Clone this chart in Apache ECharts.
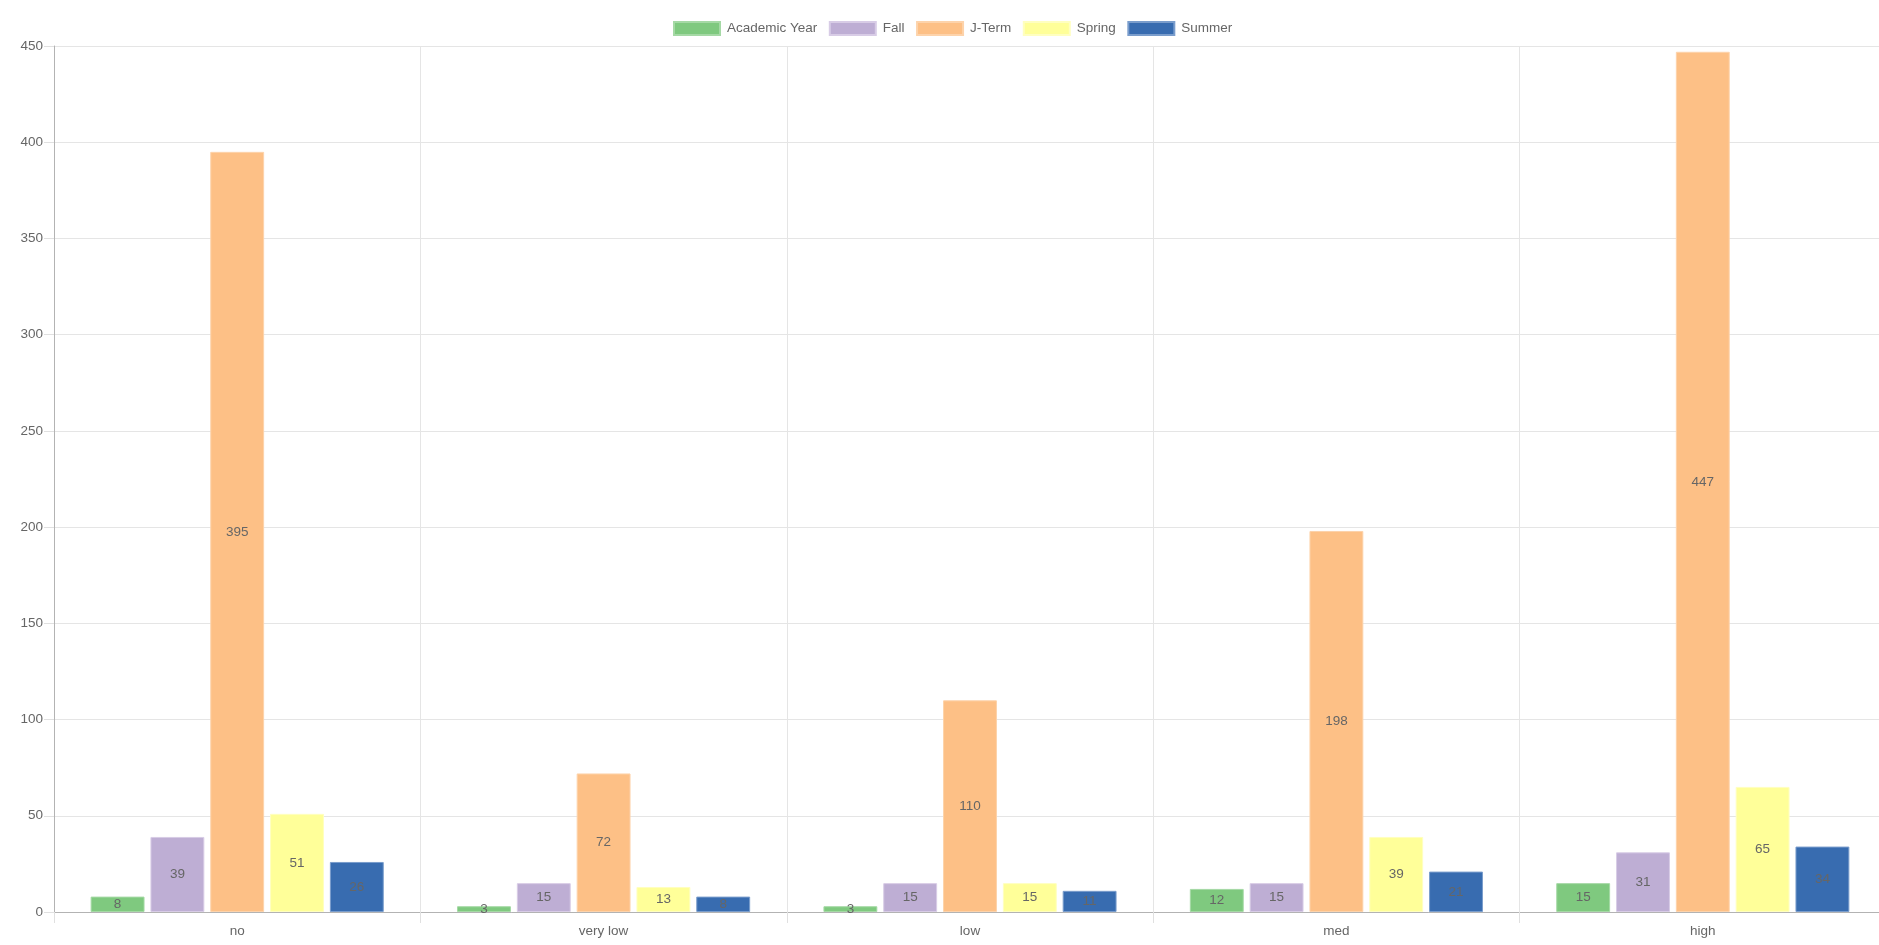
<!DOCTYPE html>
<html><head><meta charset="utf-8">
<script src="https://cdn.jsdelivr.net/npm/echarts@6/dist/echarts.min.js"></script>
<style>html,body{margin:0;padding:0;background:#fff;overflow:hidden;width:1879px;height:945px}#c{width:1900px;height:945px}</style>
</head><body><div id="c"></div>
<script>
const categories = ['no', 'very low', 'low', 'med', 'high'];
const seriesNames = ['Academic Year', 'Fall', 'J-Term', 'Spring', 'Summer'];
const academicYear = [8, 3, 3, 12, 15];
const fall = [39, 15, 15, 15, 31];
const jTerm = [395, 72, 110, 198, 447];
const spring = [51, 13, 15, 39, 65];
const summer = [26, 8, 11, 21, 34];
const colors = ['#7fc97f', '#beaed4', '#fdc086', '#ffff99', '#386cb0'];
const borders = ['#a5d9a5', '#d8cce6', '#fdd3ab', '#ffffc0', '#7a9dcc'];
const values = [academicYear, fall, jTerm, spring, summer];
const font = 'Liberation Sans, Arial, Helvetica, sans-serif';
const fs = 13.5;

const chart = echarts.init(document.getElementById('c'), null, {renderer: 'canvas'});
chart.setOption({
  animation: false,
  color: colors,
  legend: {
    top: 16, left: 668,
    itemWidth: 46, itemHeight: 13, itemGap: 11.5,
    icon: 'rect',
    textStyle: {color: '#666', fontSize: fs, fontFamily: font, padding: [0, 0, 0, 2]},
    data: seriesNames
  },
  grid: {left: 54, width: 1832, top: 46, bottom: 33, containLabel: false},
  xAxis: {
    type: 'category', data: categories,
    axisLine: {show: true, lineStyle: {color: '#b3b3b3'}},
    axisTick: {show: true, length: 11, lineStyle: {color: '#e0e0e0'}},
    axisLabel: {color: '#666', fontSize: fs, fontFamily: font, margin: 12},
    splitLine: {show: true, lineStyle: {color: '#e5e5e5'}}
  },
  yAxis: {
    type: 'value', min: 0, max: 450, interval: 50,
    axisLine: {show: true, lineStyle: {color: '#b3b3b3'}},
    axisTick: {show: true, length: 10, lineStyle: {color: '#e0e0e0'}},
    axisLabel: {color: '#666', fontSize: fs, fontFamily: font, margin: 11},
    splitLine: {show: true, lineStyle: {color: '#e5e5e5'}}
  },
  series: seriesNames.map((n, i) => ({
    name: n, type: 'bar', data: values[i],
    barCategoryGap: '20%', barGap: '11%',
    itemStyle: {color: colors[i], borderColor: borders[i], borderWidth: 1},
    label: {show: true, position: 'inside', color: '#666', fontSize: fs, fontFamily: font}
  }))
});
</script></body></html>
